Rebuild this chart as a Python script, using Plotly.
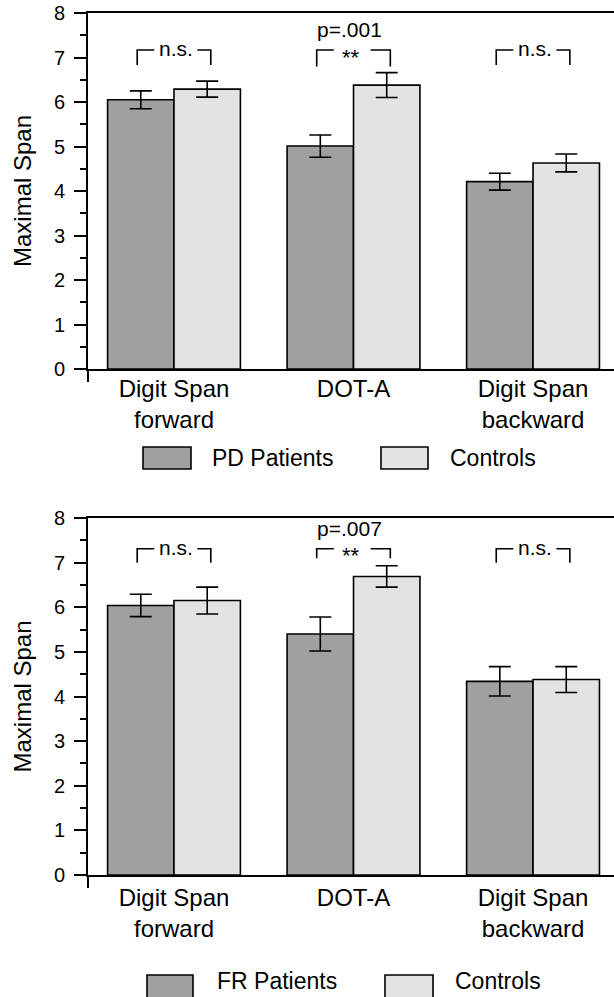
import plotly.graph_objects as go

# ---------------- data ----------------
tick_labels = ["Digit Span<br>forward", "DOT-A", "Digit Span<br>backward"]
category_pos = [0, 1, 2]

top_patients = [6.05, 5.01, 4.21]
top_patients_err = [0.20, 0.25, 0.19]
top_controls = [6.29, 6.38, 4.63]
top_controls_err = [0.18, 0.28, 0.20]

bottom_patients = [6.04, 5.40, 4.34]
bottom_patients_err = [0.25, 0.38, 0.33]
bottom_controls = [6.15, 6.69, 4.38]
bottom_controls_err = [0.30, 0.24, 0.29]

top_sig = ["n.s.", "**", "n.s."]
top_p = ["", "p=.001", ""]
bottom_sig = ["n.s.", "**", "n.s."]
bottom_p = ["", "p=.007", ""]

top_names = ["PD Patients", "Controls"]
bottom_names = ["FR Patients", "Controls"]

# ---------------- style ----------------
DARK = "#a0a0a0"
LIGHT = "#e3e3e3"
FONT = "Liberation Sans, Arial, Helvetica, sans-serif"
XMIN, XMAX = -0.479, 2.451

fig = go.Figure()


def add_bars(vals, errs, color, name, xa, ya):
    fig.add_trace(go.Bar(
        x=category_pos, y=vals, name=name, xaxis=xa, yaxis=ya,
        marker=dict(color=color, line=dict(color="black", width=1.6)),
        error_y=dict(type="data", array=errs, color="black", thickness=1.6, width=11),
        showlegend=False,
    ))


add_bars(top_patients, top_patients_err, DARK, top_names[0], "x", "y")
add_bars(top_controls, top_controls_err, LIGHT, top_names[1], "x", "y")
add_bars(bottom_patients, bottom_patients_err, DARK, bottom_names[0], "x2", "y2")
add_bars(bottom_controls, bottom_controls_err, LIGHT, bottom_names[1], "x2", "y2")

shapes = []
annotations = []


def add_brackets(sig, pv, xr, yr, y_top, y_bot_ns, y_bot_sig, y_p):
    for i, (s, p) in enumerate(zip(sig, pv)):
        c = category_pos[i]
        L, R = c - 0.205, c + 0.205
        if s == "**":
            yb = y_bot_sig
            l_end, r_start = c - 0.11, c + 0.095
            tx = c - 0.015
            ty = y_top - 0.16
            fs = 22
        else:
            yb = y_bot_ns
            l_end, r_start = c - 0.11, c + 0.13
            tx = c + 0.01
            ty = y_top + 0.04
            fs = 21
        shapes.append(dict(type="path", xref=xr, yref=yr,
                           path=f"M {L} {yb} L {L} {y_top} L {l_end} {y_top}",
                           line=dict(color="black", width=1.6)))
        shapes.append(dict(type="path", xref=xr, yref=yr,
                           path=f"M {r_start} {y_top} L {R} {y_top} L {R} {yb}",
                           line=dict(color="black", width=1.6)))
        annotations.append(dict(x=tx, y=ty, xref=xr, yref=yr, text=s, showarrow=False,
                                font=dict(size=fs, family=FONT, color="black"),
                                xanchor="center", yanchor="middle"))
        if p:
            annotations.append(dict(x=c - 0.025, y=y_p, xref=xr, yref=yr, text=p,
                                    showarrow=False,
                                    font=dict(size=21, family=FONT, color="black"),
                                    xanchor="center", yanchor="middle"))


add_brackets(top_sig, top_p, "x", "y", 7.17, 6.83, 6.80, 7.63)
add_brackets(bottom_sig, bottom_p, "x2", "y2", 7.31, 7.0, 7.1, 7.76)

# ---------------- legends (drawn as swatches + labels) ----------------
W, H = 614, 997
L_, T_ = 88, 13
PW, PH = W - L_, H - T_


def px(x):
    return (x - L_) / PW


def py(y):
    return (H - y) / PH


def legend(items):
    for (x0, x1, y0, y1, color, tx, ty, text) in items:
        shapes.append(dict(type="rect", xref="paper", yref="paper",
                           x0=px(x0), x1=px(x1), y0=py(y1), y1=py(y0),
                           fillcolor=color, line=dict(color="black", width=1.6)))
        annotations.append(dict(x=px(tx), y=py(ty), xref="paper", yref="paper",
                                text=text, showarrow=False, xanchor="left",
                                yanchor="middle",
                                font=dict(size=23, family=FONT, color="black")))


legend([
    (143, 191, 447, 469, DARK, 210, 458, top_names[0]),
    (381, 428, 447, 469, LIGHT, 448, 458, top_names[1]),
    (147, 193, 975, 1000, DARK, 215, 981, bottom_names[0]),
    (385, 433, 975, 1000, LIGHT, 453, 981, bottom_names[1]),
])

# ---------------- axes ----------------
xaxis_common = dict(
    range=[XMIN, XMAX], tickmode="array", tickvals=category_pos, ticktext=tick_labels,
    showline=True, linecolor="black", linewidth=1.6, mirror=True,
    ticks="", showgrid=False, zeroline=False, automargin=False,
    tickfont=dict(size=24, family=FONT, color="black"),
    minor=dict(tickmode="array", tickvals=[XMIN], ticks="outside", ticklen=11,
               tickwidth=1.6, tickcolor="black", showgrid=False),
)
yaxis_common = dict(
    range=[0, 8], tickmode="linear", tick0=0, dtick=1,
    showline=True, linecolor="black", linewidth=1.6,
    ticks="outside", ticklen=12, tickwidth=1.6, tickcolor="black",
    ticklabelstandoff=5, automargin=False,
    minor=dict(dtick=0.5, ticks="outside", ticklen=6, tickwidth=1.6,
               tickcolor="black", showgrid=False),
    showgrid=False, zeroline=False,
    tickfont=dict(size=20, family=FONT, color="black"),
    title=dict(text="Maximal Span", font=dict(size=24, family=FONT, color="black"),
               standoff=16),
)

fig.update_layout(
    width=W, height=H,
    margin=dict(l=L_, r=0, t=T_, b=0, pad=0),
    paper_bgcolor="white", plot_bgcolor="white",
    barmode="group", bargap=0.26, bargroupgap=0,
    xaxis=dict(**xaxis_common, anchor="y", ticklabelstandoff=-3),
    yaxis=dict(**yaxis_common, domain=[py(369), 1], anchor="x"),
    xaxis2=dict(**xaxis_common, anchor="y2", ticklabelstandoff=0),
    yaxis2=dict(**yaxis_common, domain=[py(875), py(518)], anchor="x2"),
    shapes=shapes, annotations=annotations,
    showlegend=False,
)

# remove the browser's default 8px body margin so the figure fills the window
post = "document.body.style.margin='0';document.body.style.overflow='hidden';"
fig.write_html("out.html", config={"displayModeBar": False}, post_script=post)
